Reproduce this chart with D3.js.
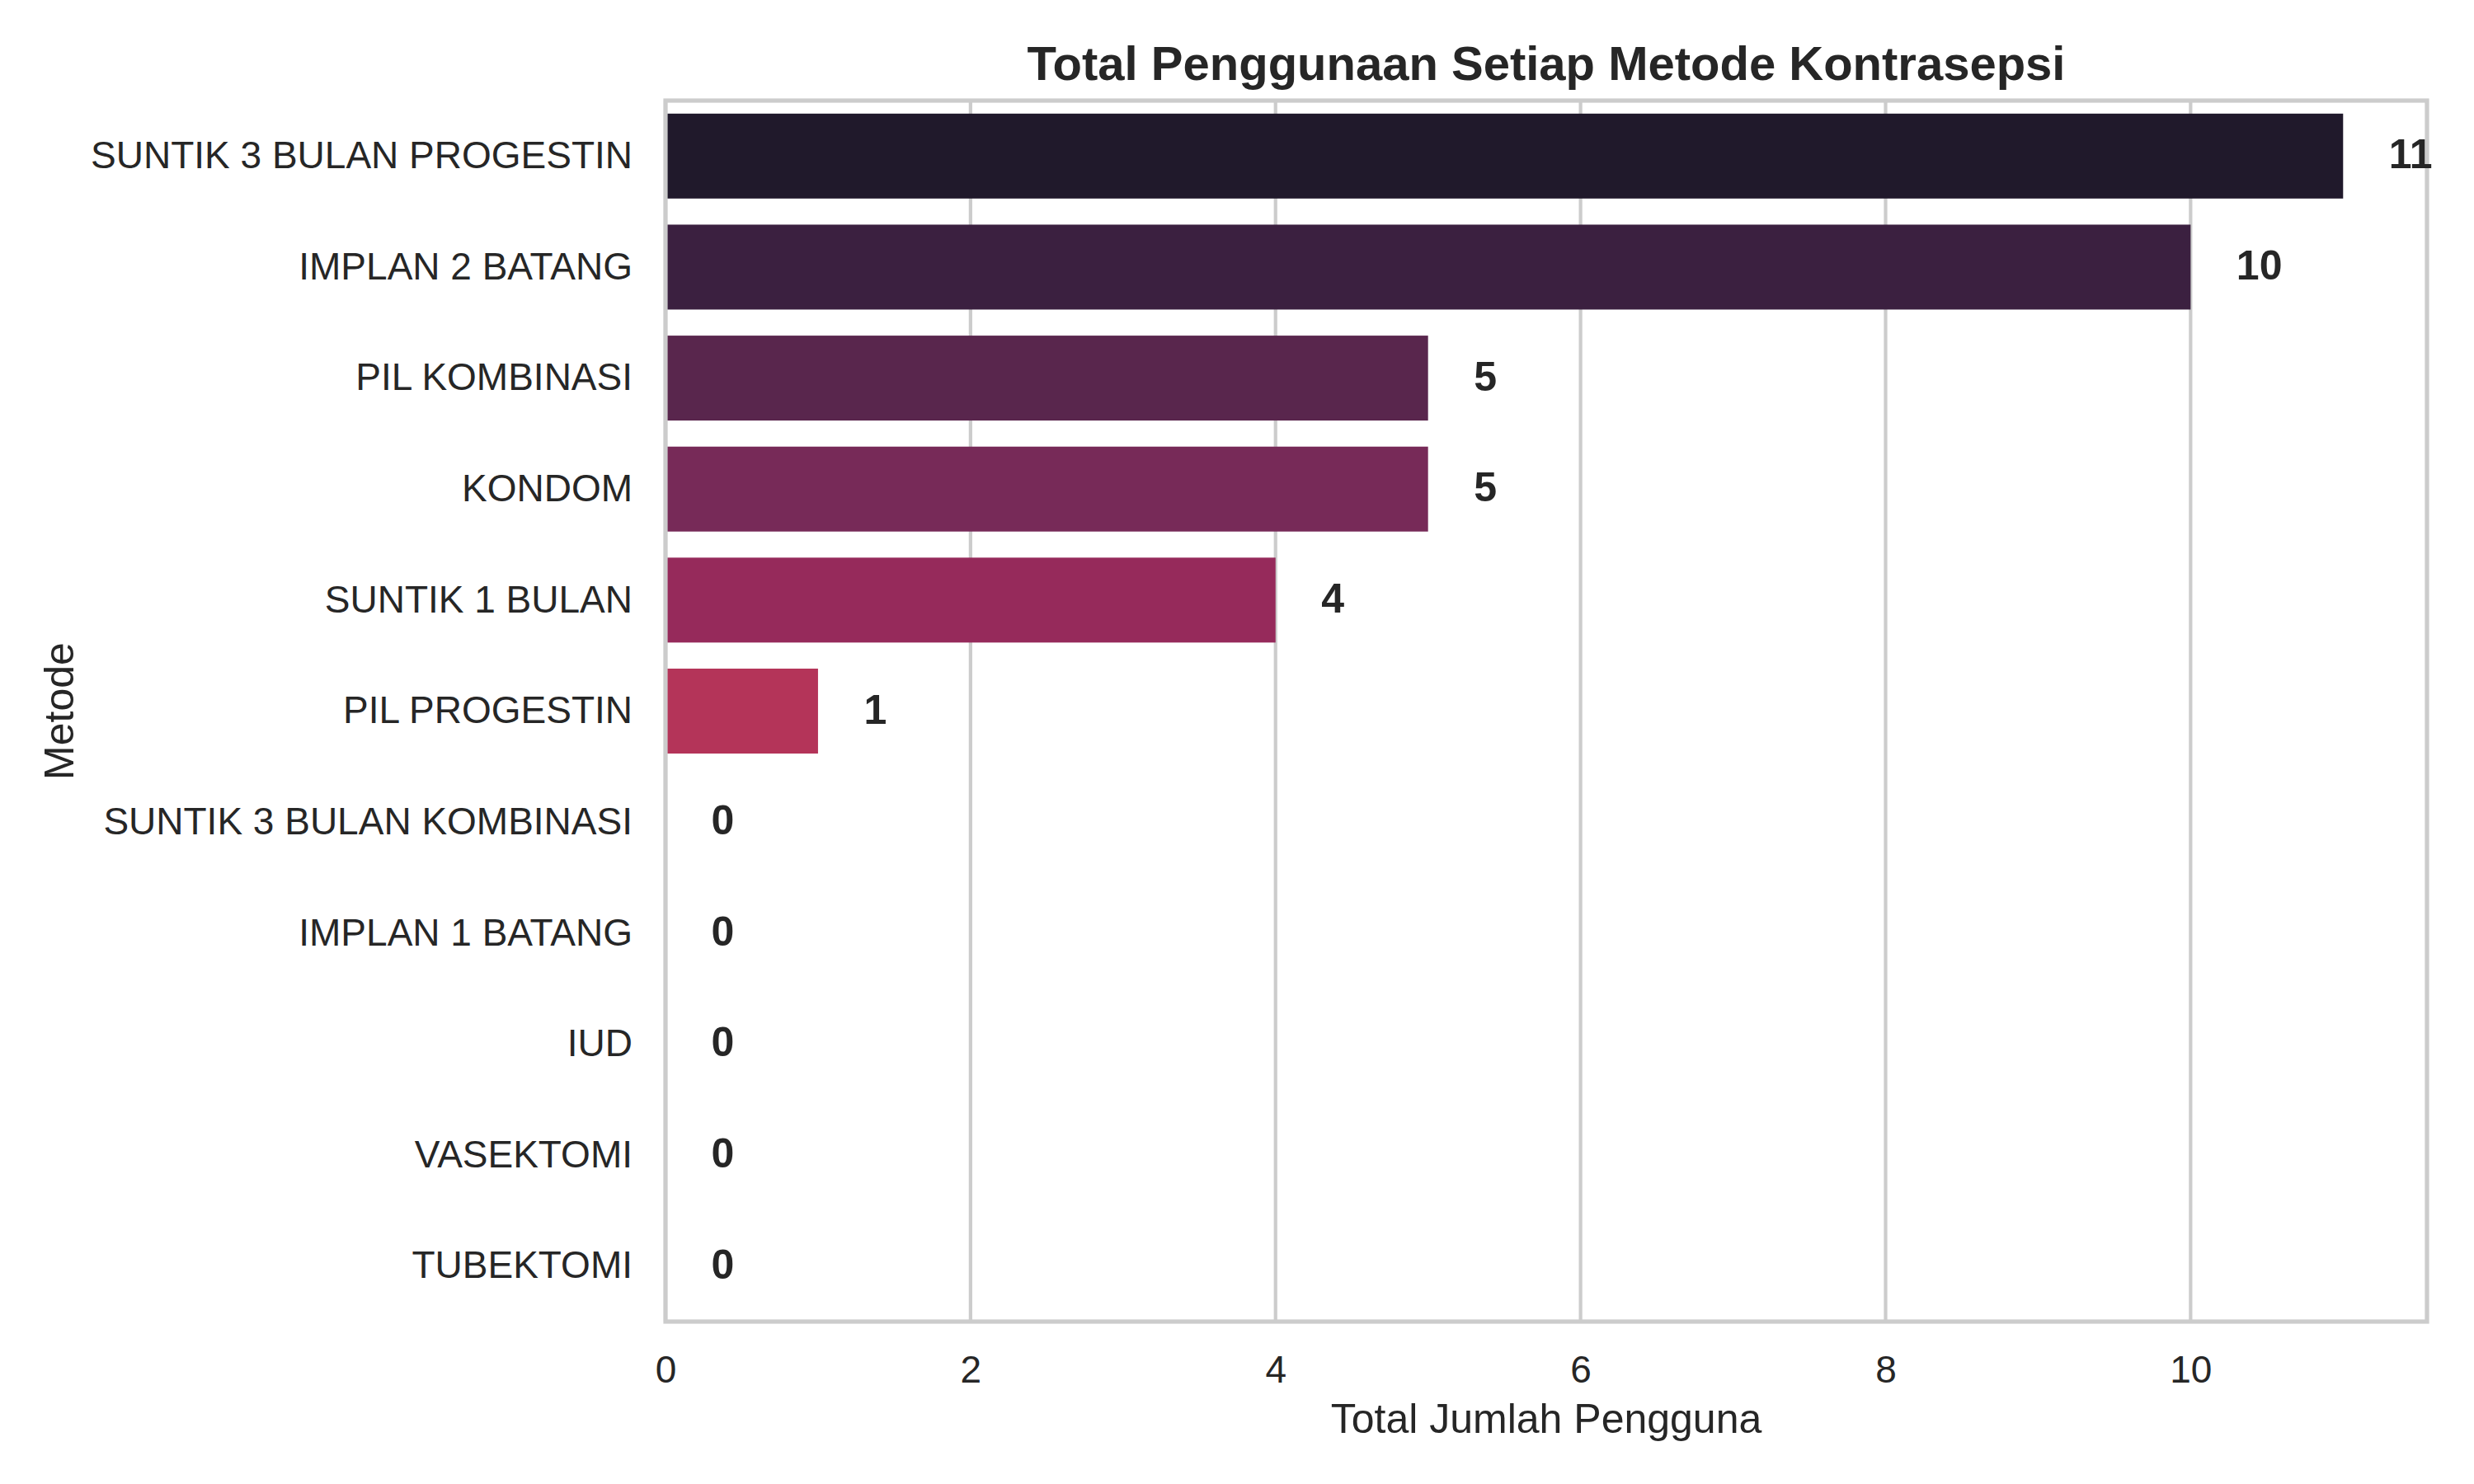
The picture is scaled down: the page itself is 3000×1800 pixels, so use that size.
<!DOCTYPE html>
<html>
<head>
<meta charset="utf-8">
<script src="https://cdn.jsdelivr.net/npm/d3@7"></script>
<style>
  body { margin: 0; background: #fff; }
  text { font-family: "Liberation Sans", Arial, sans-serif; }
</style>
</head>
<body>
<div id="chart"></div>
<script>
// data
const methods = [
    "SUNTIK 3 BULAN PROGESTIN",
    "IMPLAN 2 BATANG",
    "PIL KOMBINASI",
    "KONDOM",
    "SUNTIK 1 BULAN",
    "PIL PROGESTIN",
    "SUNTIK 3 BULAN KOMBINASI",
    "IMPLAN 1 BATANG",
    "IUD",
    "VASEKTOMI",
    "TUBEKTOMI"
];
const users = [11, 10, 5, 5, 4, 1, 0, 0, 0, 0, 0];
const barColors = ["#20192b", "#3b2040", "#59264d", "#772a58", "#962a5b", "#b43459",
                   "#c84450", "#d25a4f", "#db7659", "#e19672", "#e6b592"];
const xTicks = [0, 2, 4, 6, 8, 10];

const titleText = "Total Penggunaan Setiap Metode Kontrasepsi";
const xLabel = "Total Jumlah Pengguna";
const yLabel = "Metode";

const data = methods.map((m, i) => ({ method: m, value: users[i], color: barColors[i] }));

// layout
const margin = { top: 122, right: 57, bottom: 197, left: 807 };
const width = 3000 - margin.left - margin.right;
const height = 1800 - margin.top - margin.bottom;
const ink = "#262626";

const svg = d3.select("#chart")
    .append("svg")
    .attr("width", 3000)
    .attr("height", 1800)
    .style("display", "block");

svg.append("rect").attr("width", 3000).attr("height", 1800).attr("fill", "#fff");

const g = svg.append("g")
    .attr("transform", `translate(${margin.left},${margin.top})`);

// scales (matplotlib-style 5% margin on the max)
const xMax = d3.max(users) * 1.05;
const xScale = d3.scaleLinear().domain([0, xMax]).range([0, width]);
const yScale = d3.scaleBand()
    .domain(methods)
    .range([0, height])
    .paddingInner(0.235)
    .paddingOuter(0.1175);

// grid
g.append("g")
    .selectAll("line")
    .data(xTicks)
    .join("line")
    .attr("x1", d => xScale(d))
    .attr("x2", d => xScale(d))
    .attr("y1", 0)
    .attr("y2", height)
    .attr("stroke", "#cccccc")
    .attr("stroke-width", 4.2);

// bars
g.append("g")
    .selectAll("rect")
    .data(data)
    .join("rect")
    .attr("x", xScale(0))
    .attr("y", d => yScale(d.method))
    .attr("width", d => xScale(d.value) - xScale(0))
    .attr("height", yScale.bandwidth())
    .attr("fill", d => d.color);

// frame
g.append("rect")
    .attr("width", width)
    .attr("height", height)
    .attr("fill", "none")
    .attr("stroke", "#cccccc")
    .attr("stroke-width", 5.2);

// axes
const xAxis = g.append("g")
    .attr("transform", `translate(0,${height})`)
    .call(d3.axisBottom(xScale).tickValues(xTicks).tickSize(0).tickPadding(41).tickFormat(d3.format("d")));
const yAxis = g.append("g")
    .call(d3.axisLeft(yScale).tickSize(0).tickPadding(40));

[xAxis, yAxis].forEach(ax => {
    ax.select(".domain").remove();
    ax.attr("font-family", null).attr("font-size", null);
    ax.selectAll("text")
        .attr("font-size", 46)
        .attr("fill", ink);
});

// value labels
g.append("g")
    .selectAll("text")
    .data(data)
    .join("text")
    .attr("x", d => xScale(d.value + 0.3))
    .attr("y", d => yScale(d.method) + yScale.bandwidth() / 2)
    .attr("dy", "0.3em")
    .attr("font-size", 50)
    .attr("font-weight", "bold")
    .attr("fill", ink)
    .text(d => d.value);

// title and axis labels
svg.append("text")
    .attr("x", margin.left + width / 2)
    .attr("y", 97)
    .attr("text-anchor", "middle")
    .attr("font-size", 58)
    .attr("font-weight", "bold")
    .attr("fill", ink)
    .text(titleText);

svg.append("text")
    .attr("x", margin.left + width / 2)
    .attr("y", 1738)
    .attr("text-anchor", "middle")
    .attr("font-size", 50)
    .attr("fill", ink)
    .text(xLabel);

svg.append("text")
    .attr("transform", `translate(89,${margin.top + height / 2}) rotate(-90)`)
    .attr("text-anchor", "middle")
    .attr("font-size", 50)
    .attr("fill", ink)
    .text(yLabel);
</script>
</body>
</html>
